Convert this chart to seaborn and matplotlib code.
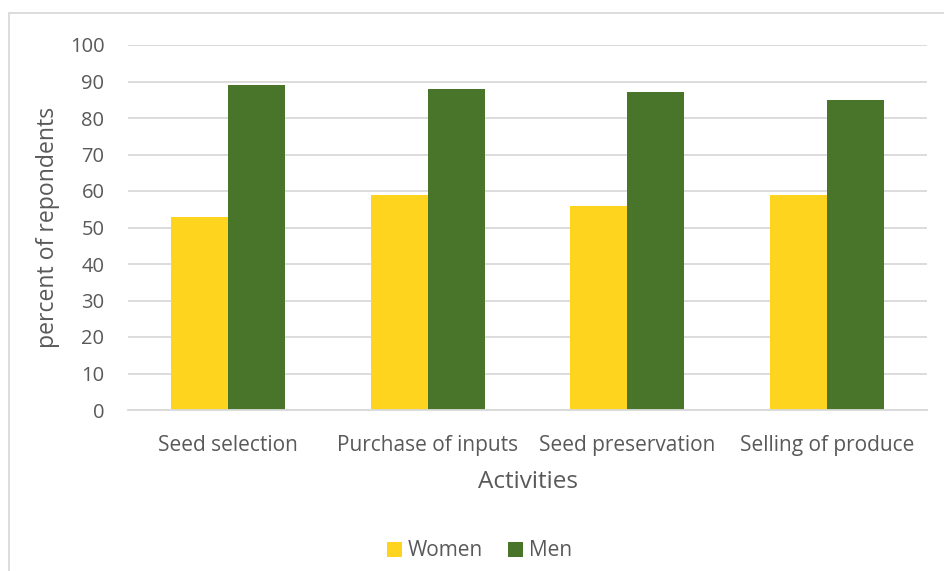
import matplotlib
matplotlib.use("Agg")
import matplotlib.pyplot as plt
from matplotlib.lines import Line2D
from matplotlib.patches import Patch
import seaborn as sns
import pandas as pd

# Share of respondents involved in each activity, by gender
activities = ["Seed selection", "Purchase of inputs", "Seed preservation", "Selling of produce"]
women = [53, 59, 56, 59]
men = [89, 88, 87, 85]
groups = ["Women", "Men"]
palette = {"Women": "#FFD41F", "Men": "#49752A"}
y_ticks = list(range(0, 101, 10))

df = pd.DataFrame({
    "Activity": activities * 2,
    "Group": ["Women"] * len(activities) + ["Men"] * len(activities),
    "Percent": women + men,
})

sns.set_theme(style="white")
plt.rcParams["font.family"] = ["Open Sans", "DejaVu Sans"]
text_color = "#595959"
grid_color = "#D9D9D9"

fig = plt.figure(figsize=(9.44, 5.71), dpi=100)
ax = fig.add_axes([128 / 944, 1 - 410 / 571, (927 - 128) / 944, (410 - 45) / 571])

sns.barplot(data=df, x="Activity", y="Percent", hue="Group", hue_order=groups,
            palette=palette, width=0.57, saturation=1, ax=ax, legend=False,
            edgecolor="none", linewidth=0)

ax.set_ylim(0, 100)
ax.set_xlim(-0.5, len(activities) - 0.5)
ax.set_yticks(y_ticks)
ax.yaxis.grid(True, color=grid_color, linewidth=1.3)
ax.set_axisbelow(True)
for side in ["top", "right", "left"]:
    ax.spines[side].set_visible(False)
ax.spines["bottom"].set_color(grid_color)
ax.spines["bottom"].set_linewidth(1.3)

ax.tick_params(axis="y", length=0, pad=17, labelsize=14.5, labelcolor=text_color)
ax.tick_params(axis="x", which="major", length=0, pad=18, labelsize=15, labelcolor=text_color)
ax.set_xticks([i - 0.5 for i in range(len(activities) + 1)], minor=True)
ax.tick_params(axis="x", which="minor", length=7, width=1.3, color=grid_color)

ax.set_xlabel("Activities", fontsize=17.5, color=text_color, labelpad=10)
ax.set_ylabel("")
fig.text(48 / 944, 1 - 227.5 / 571, "percent of repondents", rotation=90,
         ha="center", va="center", fontsize=16.6, color=text_color)

handles = [Patch(facecolor=palette[g], edgecolor="none", label=g) for g in groups]
fig.legend(handles=handles, loc="center", bbox_to_anchor=(479.5 / 944, 1 - 551 / 571),
           ncol=2, frameon=False, fontsize=15, labelcolor=text_color,
           handlelength=0.7, handleheight=0.7, handletextpad=0.3, columnspacing=1.2)

# Chart-area border along the top and left edges
fig.add_artist(Line2D([9 / 944, 1], [1 - 13 / 571] * 2, transform=fig.transFigure,
                      color=grid_color, linewidth=1.3))
fig.add_artist(Line2D([9 / 944] * 2, [1 - 13 / 571, 0], transform=fig.transFigure,
                      color=grid_color, linewidth=1.3))

fig.savefig("out.png", dpi=100, facecolor="white")
